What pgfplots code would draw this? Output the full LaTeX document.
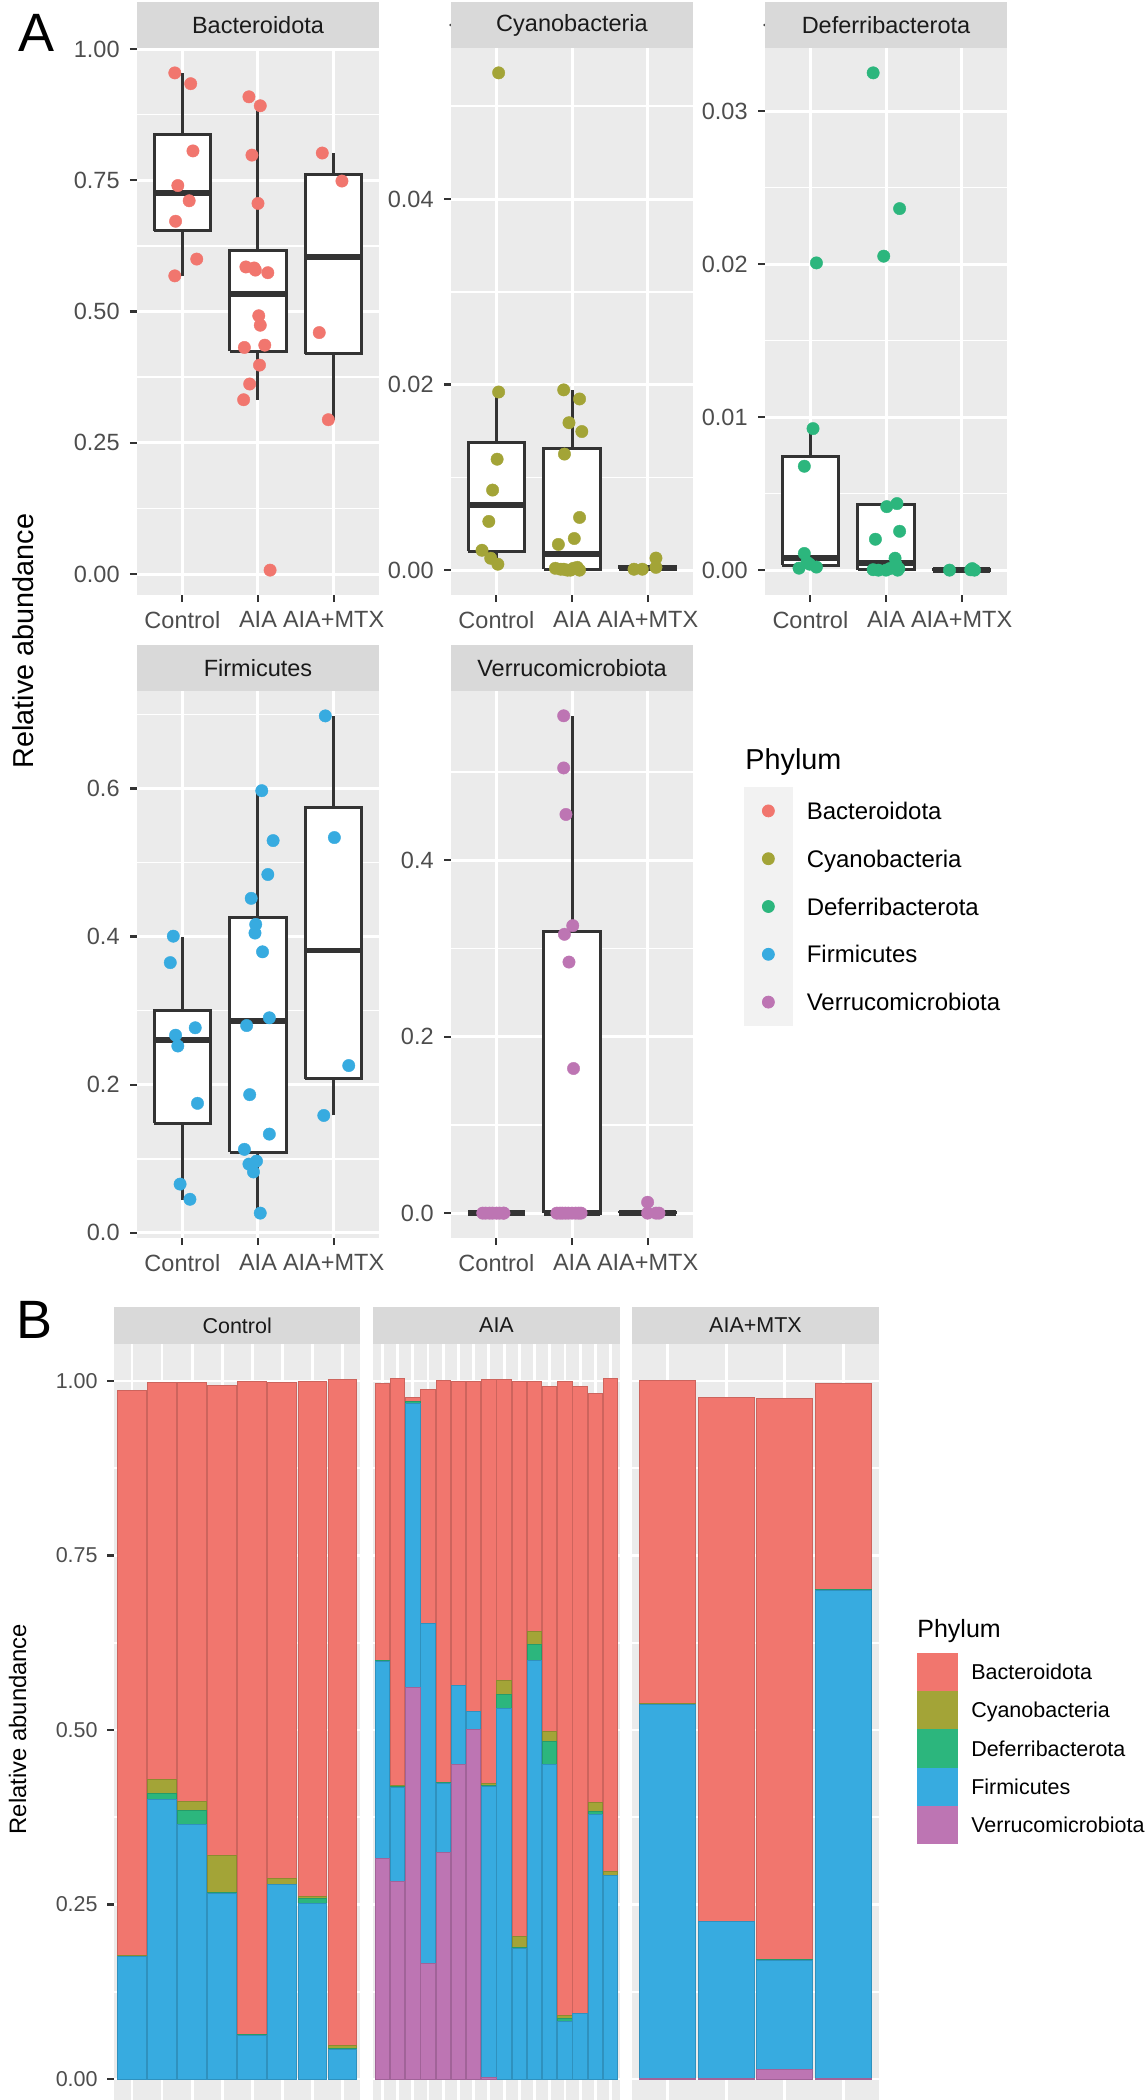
\documentclass[border=0pt]{standalone}
\usepackage{pgfplots}
\pgfplotsset{compat=1.18}
\usepackage{fontspec}
\setmainfont{Liberation Sans}

\definecolor{cB}{HTML}{F1766E}
\definecolor{cC}{HTML}{A3A437}
\definecolor{cD}{HTML}{2CB67D}
\definecolor{cF}{HTML}{37ABE0}
\definecolor{cV}{HTML}{BD75B3}
\definecolor{ggbg}{HTML}{EBEBEB}
\definecolor{ggstrip}{HTML}{D9D9D9}
\definecolor{ggstriptext}{HTML}{1A1A1A}
\definecolor{ggtick}{HTML}{333333}
\definecolor{ggtext}{HTML}{4D4D4D}
\definecolor{gglegbg}{HTML}{F2F2F2}

\newcommand\fA{\fontsize{11.75}{14}\selectfont}
\newcommand\fT{\fontsize{14.4}{17}\selectfont}
\newcommand\fB{\fontsize{10.75}{13}\selectfont}
\newcommand\fBT{\fontsize{12.5}{15}\selectfont}
\newcommand\fP{\fontsize{27}{30}\selectfont}

\pgfplotsset{
  gg/.style={
    scale only axis, enlargelimits=false, clip=true,
    axis background/.style={fill=ggbg},
    axis line style={draw=none},
    xmajorgrids=true, ymajorgrids=true, yminorgrids=true,
    major grid style={draw=white, line width=1.5pt},
    minor grid style={draw=white, line width=0.8pt},
    tick pos=left, tick align=outside,
    major tick length=3.5pt, minor tick length=0pt,
    tick style={draw=ggtick, line width=1.1pt},
    minor tick style={draw=none},
    /pgf/number format/assume math mode=true,
    tick label style={text=ggtext},
  },
  facetA/.style={gg, width=121pt, height=273.5pt, xmin=0.4, xmax=3.6,
    xtick={1,2,3}, xticklabels={Control,AIA,AIA+MTX},
    xticklabel style={font=\fA, anchor=north, inner sep=0pt, yshift=-4.5pt},
    yticklabel style={font=\fA, anchor=east, inner sep=0pt, xshift=-5pt},
  },
  % box plot pieces: whisker, box (Q1..Q3), median
  bxline/.style={draw=ggtick, line width=1.5pt, solid, mark=none},
  bxbox/.style={draw=ggtick, fill=white, line width=1.5pt, solid, mark=none},
  bxmed/.style={draw=ggtick, line width=2.9pt, solid, mark=none},
  pts/.style={only marks, mark=*, mark size=3.1pt, color=#1,
    mark options={solid, fill=#1, draw=#1, line width=0.2pt}},
  facetB/.style={gg, width=123.2pt, height=378pt, ymin=-0.0301, ymax=1.053,
    xmin=0.4, ybar stacked, bar width=0.95,
    ytick={0,0.25,0.5,0.75,1}, minor ytick={0.125,0.375,0.625,0.875},
    xtick style={draw=none}, xticklabels={},
    major grid style={draw=white, line width=1.4pt},
  },
  barst/.style={fill=#1, draw=#1!85!black, line width=0.5pt},
}

\begin{document}
\begin{tikzpicture}
\path[use as bounding box] (0,0) rectangle (573pt,-1050pt);

% ---------- Panel A ----------
\begin{axis}[facetA, name=a1, at={(68.5pt,-24pt)}, anchor=north west,
  ymin=-0.0399, ymax=1.002, ytick={0,0.25,0.5,0.75,1},
  yticklabels={0.00,0.25,0.50,0.75,1.00}, minor ytick={0.125,0.375,0.625,0.875}]
\addplot[bxline] coordinates {(1,0.5675) (1,0.955)};
\addplot[bxbox] coordinates {(0.625,0.654) (1.375,0.654) (1.375,0.838) (0.625,0.838) (0.625,0.654)};
\addplot[bxmed] coordinates {(0.625,0.726) (1.375,0.726)};
\addplot[bxline] coordinates {(2,0.332) (2,0.892)};
\addplot[bxbox] coordinates {(1.625,0.424) (2.375,0.424) (2.375,0.6165) (1.625,0.6165) (1.625,0.424)};
\addplot[bxmed] coordinates {(1.625,0.5335) (2.375,0.5335)};
\addplot[bxline] coordinates {(3,0.294) (3,0.802)};
\addplot[bxbox] coordinates {(2.625,0.420) (3.375,0.420) (3.375,0.762) (2.625,0.762) (2.625,0.420)};
\addplot[bxmed] coordinates {(2.625,0.6037) (3.375,0.6037)};
\addplot[pts=cB] coordinates {
(0.90,0.9546) (1.11,0.934) (1.14,0.806) (0.94,0.740) (1.09,0.711) (0.91,0.672) (1.19,0.600) (0.90,0.568)
(1.88,0.909) (2.03,0.892) (1.92,0.798) (2.00,0.706) (1.84,0.585) (1.965,0.579) (2.13,0.574) (1.95,0.583)
(2.01,0.492) (2.03,0.474) (1.82,0.4316) (2.09,0.436) (2.02,0.398) (1.89,0.362) (1.81,0.332) (2.16,0.0075)
(2.85,0.802) (3.11,0.7486) (2.81,0.460) (2.93,0.294)};
\end{axis}

\begin{axis}[facetA, name=a2, at={(225.5pt,-24pt)}, anchor=north west,
  ymin=-0.00268, ymax=0.05628, ytick={0,0.02,0.04},
  yticklabels={0.00,0.02,0.04}, minor ytick={0.01,0.03,0.05}]
\addplot[bxline] coordinates {(1,0.0007) (1,0.0192)};
\addplot[bxbox] coordinates {(0.625,0.00205) (1.375,0.00205) (1.375,0.01379) (0.625,0.01379) (0.625,0.00205)};
\addplot[bxmed] coordinates {(0.625,0.00704) (1.375,0.00704)};
\addplot[bxline] coordinates {(2,0) (2,0.0194)};
\addplot[bxbox] coordinates {(1.625,0.0001) (2.375,0.0001) (2.375,0.01315) (1.625,0.01315) (1.625,0.0001)};
\addplot[bxmed] coordinates {(1.625,0.0017) (2.375,0.0017)};
\addplot[bxline] coordinates {(3,0) (3,0.0006)};
\addplot[bxbox] coordinates {(2.625,0.0001) (3.375,0.0001) (3.375,0.0004) (2.625,0.0004) (2.625,0.0001)};
\addplot[bxmed] coordinates {(2.625,0.0002) (3.375,0.0002)};
\addplot[pts=cC] coordinates {
(1.03,0.0536) (1.03,0.0192) (1.01,0.01196) (0.95,0.00863) (0.90,0.00525) (0.81,0.00214) (0.925,0.00128) (1.02,0.00064)
(1.89,0.01943) (2.10,0.01845) (1.96,0.01589) (2.13,0.01494) (1.90,0.01251) (2.10,0.00568) (2.03,0.00341) (1.82,0.00277)
(1.78,0.0002) (1.89,0.0001) (1.98,0) (2.07,0.0003) (1.85,0.0001) (1.94,0) (2.02,0.0002) (2.10,0)
(2.82,0.0001) (2.93,0.0001) (3.11,0.0013) (3.11,0.0003)};
\end{axis}

\begin{axis}[facetA, name=a3, at={(382.5pt,-24pt)}, anchor=north west,
  ymin=-0.001625, ymax=0.034125, ytick={0,0.01,0.02,0.03},
  yticklabels={0.00,0.01,0.02,0.03}, minor ytick={0.005,0.015,0.025}]
\addplot[bxline] coordinates {(1,0.0002) (1,0.00925)};
\addplot[bxbox] coordinates {(0.625,0.00031) (1.375,0.00031) (1.375,0.00744) (0.625,0.00744) (0.625,0.00031)};
\addplot[bxmed] coordinates {(0.625,0.00078) (1.375,0.00078)};
\addplot[bxline] coordinates {(2,0) (2,0.00435)};
\addplot[bxbox] coordinates {(1.625,0.00002) (2.375,0.00002) (2.375,0.00427) (1.625,0.00427) (1.625,0.00002)};
\addplot[bxmed] coordinates {(1.625,0.00047) (2.375,0.00047)};
\addplot[bxbox] coordinates {(2.625,0) (3.375,0) (3.375,0.00002) (2.625,0.00002) (2.625,0)};
\addplot[bxmed] coordinates {(2.625,0.00001) (3.375,0.00001)};
\addplot[pts=cD] coordinates {
(1.08,0.02008) (1.035,0.00925) (0.92,0.00679) (0.92,0.00109) (0.85,0.00013) (0.99,0.00039) (1.08,0.0002) (0.955,0.00052)
(1.83,0.0325) (2.18,0.02363) (1.97,0.02052) (2.145,0.00435) (2.01,0.00415) (2.18,0.00254) (1.86,0.00202) (2.12,0.00078)
(2.145,0.0002) (1.83,0.00003) (2.155,0) (1.9,0) (2.0,0) (2.05,0.0001) (2.13,0.0004) (2.17,0.0001)
(2.84,0) (3.12,0.00002) (3.17,0) (3.14,0.0001)};
\end{axis}

\begin{axis}[facetA, name=a4, at={(68.5pt,-345.5pt)}, anchor=north west,
  ymin=-0.0071, ymax=0.7316, ytick={0,0.2,0.4,0.6},
  yticklabels={0.0,0.2,0.4,0.6}, minor ytick={0.1,0.3,0.5,0.7}]
\addplot[bxline] coordinates {(1,0.0441) (1,0.40)};
\addplot[bxbox] coordinates {(0.625,0.1478) (1.375,0.1478) (1.375,0.3003) (0.625,0.3003) (0.625,0.1478)};
\addplot[bxmed] coordinates {(0.625,0.2598) (1.375,0.2598)};
\addplot[bxline] coordinates {(2,0.0265) (2,0.597)};
\addplot[bxbox] coordinates {(1.625,0.1086) (2.375,0.1086) (2.375,0.4252) (1.625,0.4252) (1.625,0.1086)};
\addplot[bxmed] coordinates {(1.625,0.2856) (2.375,0.2856)};
\addplot[bxline] coordinates {(3,0.1584) (3,0.698)};
\addplot[bxbox] coordinates {(2.625,0.2082) (3.375,0.2082) (3.375,0.5747) (2.625,0.5747) (2.625,0.2082)};
\addplot[bxmed] coordinates {(2.625,0.3812) (3.375,0.3812)};
\addplot[pts=cF] coordinates {
(0.88,0.4005) (0.84,0.3648) (1.17,0.2768) (0.91,0.2668) (0.94,0.2522) (1.20,0.1748) (0.97,0.0657) (1.10,0.0452)
(2.05,0.597) (2.20,0.5296) (2.13,0.4838) (1.91,0.4516) (1.97,0.4164) (1.96,0.4047) (2.06,0.3794) (2.15,0.2903)
(1.85,0.2798) (1.89,0.1865) (2.15,0.1332) (1.82,0.1126) (1.88,0.0927) (1.98,0.0968) (1.94,0.0821) (2.03,0.0265)
(2.89,0.698) (3.01,0.5337) (3.20,0.2258) (2.87,0.1584)};
\end{axis}

\begin{axis}[facetA, name=a5, at={(225.5pt,-345.5pt)}, anchor=north west,
  ymin=-0.0282, ymax=0.5917, ytick={0,0.2,0.4},
  yticklabels={0.0,0.2,0.4}, minor ytick={0.1,0.3,0.5},
  legend cell align=left,
  legend style={at={(1.2107,0.8245)}, anchor=north west, draw=none, fill=none,
    inner sep=0pt, outer sep=0pt, row sep=0pt, font=\fontsize{12}{14}\selectfont,
    nodes={inner sep=0pt, text height=8.6pt, text depth=0pt, text=black},
    /tikz/every odd column/.style={column sep=7pt}}]
\addlegendimage{legend image code/.code={\fill[gglegbg] (0pt,-11.75pt) rectangle (24pt,11.75pt); \fill[cB] (12pt,0pt) circle (3pt);}}
\addlegendentry{Bacteroidota}
\addlegendimage{legend image code/.code={\fill[gglegbg] (0pt,-11.75pt) rectangle (24pt,11.75pt); \fill[cC] (12pt,0pt) circle (3pt);}}
\addlegendentry{Cyanobacteria}
\addlegendimage{legend image code/.code={\fill[gglegbg] (0pt,-11.75pt) rectangle (24pt,11.75pt); \fill[cD] (12pt,0pt) circle (3pt);}}
\addlegendentry{Deferribacterota}
\addlegendimage{legend image code/.code={\fill[gglegbg] (0pt,-11.75pt) rectangle (24pt,11.75pt); \fill[cF] (12pt,0pt) circle (3pt);}}
\addlegendentry{Firmicutes}
\addlegendimage{legend image code/.code={\fill[gglegbg] (0pt,-11.75pt) rectangle (24pt,11.75pt); \fill[cV] (12pt,0pt) circle (3pt);}}
\addlegendentry{Verrucomicrobiota}
\addplot[bxbox] coordinates {(0.625,0) (1.375,0) (1.375,0) (0.625,0) (0.625,0)};
\addplot[bxmed] coordinates {(0.625,0) (1.375,0)};
\addplot[bxline] coordinates {(2,0) (2,0.5635)};
\addplot[bxbox] coordinates {(1.625,0) (2.375,0) (2.375,0.319) (1.625,0.319) (1.625,0)};
\addplot[bxmed] coordinates {(1.625,0) (2.375,0)};
\addplot[bxline] coordinates {(3,0) (3,0.001)};
\addplot[bxbox] coordinates {(2.625,0.0002) (3.375,0.0002) (3.375,0.0008) (2.625,0.0008) (2.625,0.0002)};
\addplot[bxmed] coordinates {(2.625,0.0004) (3.375,0.0004)};
\addplot[pts=cV] coordinates {
(0.82,0) (0.86,0) (0.91,0) (0.95,0) (1.0,0) (1.04,0) (1.09,0) (1.1,0)
(1.89,0.5636) (1.89,0.5045) (1.92,0.4518) (2.01,0.3258) (1.90,0.316) (1.96,0.2845) (2.02,0.1639)
(1.80,0) (1.84,0) (1.87,0) (1.91,0) (1.95,0) (2.0,0) (2.05,0) (2.09,0) (2.12,0)
(3.0,0.0123) (3.0,0) (3.11,0) (3.15,0)};
\end{axis}

% strips A
\foreach \ax/\lab in {a1/Bacteroidota, a2/Cyanobacteria, a3/Deferribacterota, a4/Firmicutes, a5/Verrucomicrobiota}{
  \fill[ggstrip] (\ax.north west) rectangle ([yshift=23pt]\ax.north east);
  \node[font=\fA, text=ggstriptext, inner sep=0pt] at ([yshift=11.5pt]\ax.north) {\lab};
}
\node[anchor=base west, inner sep=0pt, font=\fP] at (9pt,-25.5pt) {A};
\node[rotate=90, font=\fT, inner sep=0pt] at (11.5pt,-320.5pt) {Relative abundance};
\node[anchor=base west, inner sep=0pt, font=\fT] at (372.5pt,-384.5pt) {Phylum};

% ---------- Panel B ----------
\begin{axis}[facetB, name=b1, at={(57pt,-672pt)}, anchor=north west, xmax=8.6, xtick={1,...,8},
  yticklabels={0.00,0.25,0.50,0.75,1.00},
  yticklabel style={font=\fB, anchor=east, inner sep=0pt, xshift=-4.5pt}]
\addplot[barst=cV] coordinates {(1,0) (2,0) (3,0) (4,0) (5,0) (6,0) (7,0) (8,0)};
\addplot[barst=cF] coordinates {(1,0.175) (2,0.400) (3,0.365) (4,0.266) (5,0.063) (6,0.278) (7,0.252) (8,0.043)};
\addplot[barst=cD] coordinates {(1,0.0008) (2,0.0092) (3,0.0200) (4,0.0012) (5,0.0003) (6,0.0003) (7,0.0068) (8,0.0002)};
\addplot[barst=cC] coordinates {(1,0.0015) (2,0.0193) (3,0.0122) (4,0.0537) (5,0.0007) (6,0.0090) (7,0.0022) (8,0.0055)};
\addplot[barst=cB] coordinates {(1,0.809) (2,0.569) (3,0.601) (4,0.673) (5,0.935) (6,0.710) (7,0.738) (8,0.954)};
\end{axis}

\begin{axis}[facetB, name=b2, at={(186.65pt,-672pt)}, anchor=north west, xmax=16.6, xtick={1,...,16},
  yticklabels={}, ytick style={draw=none}]
\addplot[barst=cV] coordinates {(1,0.316) (2,0.283) (3,0.561) (4,0.165) (5,0.324) (6,0.451) (7,0.501) (8,0.002) (9,0) (10,0) (11,0) (12,0) (13,0) (14,0) (15,0) (16,0)};
\addplot[barst=cF] coordinates {(1,0.282) (2,0.135) (3,0.407) (4,0.488) (5,0.100) (6,0.113) (7,0.026) (8,0.417) (9,0.531) (10,0.187) (11,0.599) (12,0.451) (13,0.083) (14,0.094) (15,0.379) (16,0.292)};
\addplot[barst=cD] coordinates {(1,0.001) (2,0.0005) (3,0.002) (4,0.0003) (5,0.0004) (6,0) (7,0) (8,0.001) (9,0.0205) (10,0.0008) (11,0.0236) (12,0.0325) (13,0.0042) (14,0.0002) (15,0.0041) (16,0.0002)};
\addplot[barst=cC] coordinates {(1,0.0003) (2,0.0015) (3,0) (4,0) (5,0) (6,0) (7,0) (8,0.0027) (9,0.0195) (10,0.0157) (11,0.0185) (12,0.015) (13,0.0035) (14,0.0003) (15,0.0127) (16,0.0057)};
\addplot[barst=cB] coordinates {(1,0.397) (2,0.583) (3,0.007) (4,0.335) (5,0.576) (6,0.436) (7,0.473) (8,0.58) (9,0.431) (10,0.796) (11,0.358) (12,0.493) (13,0.909) (14,0.897) (15,0.586) (16,0.705)};
\end{axis}

\begin{axis}[facetB, name=b3, at={(316.15pt,-672pt)}, anchor=north west, xmax=4.6, xtick={1,...,4},
  yticklabels={}, ytick style={draw=none},
  legend cell align=left,
  legend style={at={(1.1573,0.59167)}, anchor=north west, draw=none, fill=none,
    inner sep=0pt, outer sep=0pt, row sep=0pt, font=\fB,
    nodes={inner sep=0pt, text height=7.7pt, text depth=0pt, text=black},
    /tikz/every odd column/.style={column sep=6.5pt}}]
\addlegendimage{legend image code/.code={\fill[cB] (0pt,-9.375pt) rectangle (20pt,9.375pt);}}
\addlegendentry{Bacteroidota}
\addlegendimage{legend image code/.code={\fill[cC] (0pt,-9.375pt) rectangle (20pt,9.375pt);}}
\addlegendentry{Cyanobacteria}
\addlegendimage{legend image code/.code={\fill[cD] (0pt,-9.375pt) rectangle (20pt,9.375pt);}}
\addlegendentry{Deferribacterota}
\addlegendimage{legend image code/.code={\fill[cF] (0pt,-9.375pt) rectangle (20pt,9.375pt);}}
\addlegendentry{Firmicutes}
\addlegendimage{legend image code/.code={\fill[cV] (0pt,-9.375pt) rectangle (20pt,9.375pt);}}
\addlegendentry{Verrucomicrobiota}
\addplot[barst=cV] coordinates {(1,0.001) (2,0.0005) (3,0.0135) (4,0.0005)};
\addplot[barst=cF] coordinates {(1,0.535) (2,0.225) (3,0.157) (4,0.700)};
\addplot[barst=cD] coordinates {(1,0.0002) (2,0.0001) (3,0.0001) (4,0.0002)};
\addplot[barst=cC] coordinates {(1,0.0012) (2,0.0003) (3,0.0002) (4,0.0001)};
\addplot[barst=cB] coordinates {(1,0.463) (2,0.750) (3,0.804) (4,0.296)};
\end{axis}

% strips B
\foreach \ax/\lab in {b1/Control, b2/AIA, b3/AIA+MTX}{
  \fill[ggstrip] (\ax.north west) rectangle ([yshift=18.5pt]\ax.north east);
  \node[font=\fB, text=ggstriptext, inner sep=0pt] at ([yshift=9.25pt]\ax.north) {\lab};
}
\node[anchor=base west, inner sep=0pt, font=\fP] at (8pt,-669pt) {B};
\node[rotate=90, font=\fontsize{11.9}{14}\selectfont, inner sep=0pt] at (8.75pt,-864.5pt) {Relative abundance};
\node[anchor=base west, inner sep=0pt, font=\fBT] at (458.5pt,-818.5pt) {Phylum};
\end{tikzpicture}
\end{document}
